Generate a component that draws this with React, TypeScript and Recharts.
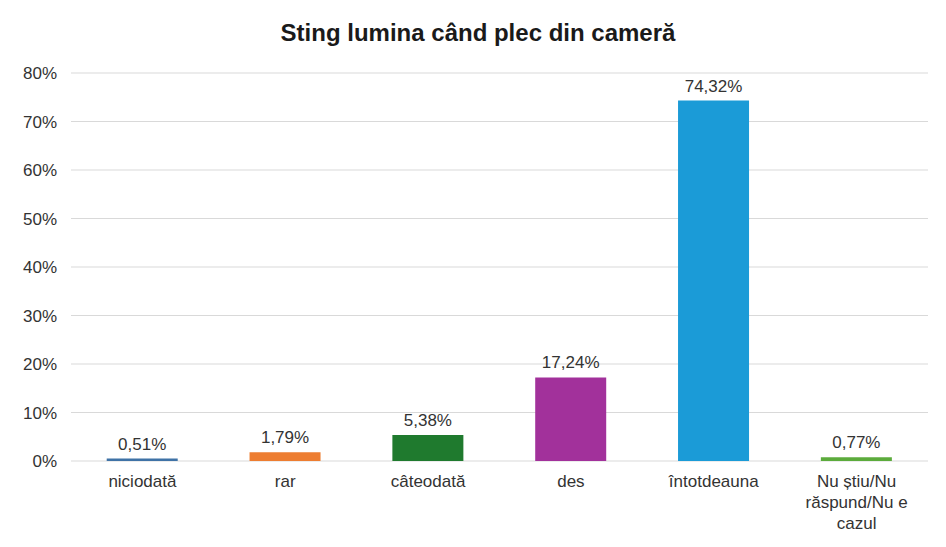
import React from "react";
import { BarChart, Bar, XAxis, YAxis, CartesianGrid, Cell, LabelList, Text } from "recharts";

const categories = ["niciodată", "rar", "câteodată", "des", "întotdeauna", "Nu știu/Nu răspund/Nu e cazul"];
const values = [0.51, 1.79, 5.38, 17.24, 74.32, 0.77];
const colors = ["#3f72a6", "#ed7d31", "#1f7a2e", "#a2319b", "#1b9bd7", "#5cab3c"];
const yTicks = [0, 10, 20, 30, 40, 50, 60, 70, 80];

const data = categories.map((name, i) => ({ name, value: values[i] }));

const FONT = "'Liberation Sans', Arial, sans-serif";

function CategoryTick(props: any) {
  const { x, y, payload } = props;
  return (
    <Text
      x={x}
      y={y + 6}
      width={110}
      textAnchor="middle"
      verticalAnchor="start"
      lineHeight={21}
      fontSize={17}
      fontFamily={FONT}
      fill="#333"
    >
      {payload.value}
    </Text>
  );
}

const fmt = (v: any) => Number(v).toFixed(2).replace(".", ",") + "%";

export default function App() {
  return (
    <div style={{ position: "relative", width: 946, height: 547, margin: -8, background: "#fff" }}>
      <div
        style={{
          position: "absolute",
          left: 5,
          top: 4,
          width: 938,
          height: 540,
          border: "1px solid #d4d4d4",
          borderRadius: 9,
          boxSizing: "border-box",
        }}
      />
      <div
        style={{
          position: "absolute",
          top: 19,
          left: 0,
          width: 956,
          textAlign: "center",
          fontFamily: FONT,
          fontWeight: "bold",
          fontSize: 24,
          color: "#1a1a1a",
        }}
      >
        Sting lumina când plec din cameră
      </div>
      <div style={{ position: "absolute", left: 0, top: 0 }}>
        <BarChart width={946} height={547} data={data} margin={{ top: 73, right: 18, bottom: 56, left: 0 }} barCategoryGap="25%">
          <CartesianGrid vertical={false} stroke="#d9d9d9" />
          <XAxis
            dataKey="name"
            axisLine={false}
            tickLine={false}
            interval={0}
            height={30}
            tick={<CategoryTick />}
          />
          <YAxis
            width={71}
            domain={[0, 80]}
            ticks={yTicks}
            axisLine={false}
            tickLine={false}
            tickMargin={8}
            tickFormatter={(v) => v + "%"}
            tick={{ fontSize: 17, fontFamily: FONT, fill: "#333" }}
          />
          <Bar dataKey="value" isAnimationActive={false}>
            {data.map((d, i) => (
              <Cell key={d.name} fill={colors[i]} />
            ))}
            <LabelList
              dataKey="value"
              position="top"
              offset={9}
              formatter={fmt}
              style={{ fontSize: 17, fontFamily: FONT, fill: "#333" }}
            />
          </Bar>
        </BarChart>
      </div>
    </div>
  );
}
